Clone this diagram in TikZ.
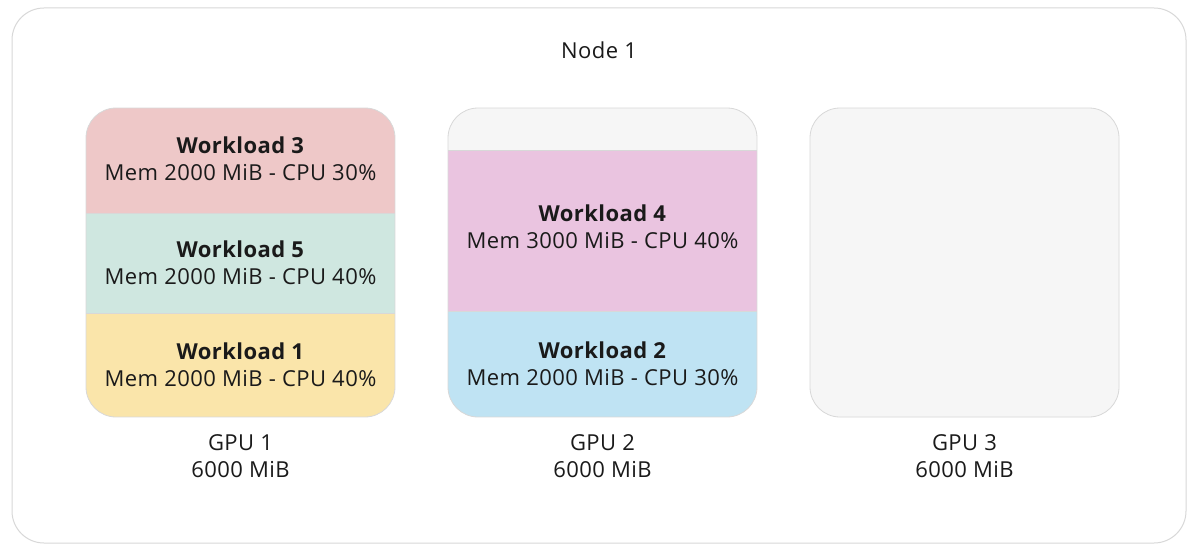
\documentclass[tikz,border=0pt]{standalone}
\usepackage{fontspec}
\setmainfont[LetterSpace=2]{Open Sans}
\definecolor{wpink}{HTML}{EEC8C8}
\definecolor{wteal}{HTML}{CFE7E0}
\definecolor{wyellow}{HTML}{FAE5AA}
\definecolor{wmag}{HTML}{EAC4E0}
\definecolor{wblue}{HTML}{BFE3F3}
\definecolor{wgrey}{HTML}{F6F6F6}
\definecolor{wline}{HTML}{D8D8D8}
\definecolor{wtext}{HTML}{1A1A1A}
\begin{document}
\begin{tikzpicture}[x=1pt,y=-1pt,
  lbl/.style={text=wtext,font=\fontsize{22}{27}\selectfont,align=center,inner sep=0pt},
  gpubox/.style={draw=wline,line width=0.8pt,rounded corners=30pt}]
\useasboundingbox (0,0) rectangle (1200,551);
\fill[white] (0,0) rectangle (1200,551);
\node[draw=wline,line width=1pt,rounded corners=32pt,minimum width=1174pt,minimum height=535pt,inner sep=0pt] (outer) at (599,275.5) {};
\node[lbl] (title) at (599,50) {Node 1};
% GPU 1
\begin{scope}
\clip[rounded corners=30pt] (86,108) rectangle (395,417);
\fill[wpink] (86,108) rectangle (395,213);
\fill[wteal] (86,213) rectangle (395,313);
\fill[wyellow] (86,313) rectangle (395,417);
\draw[wline,line width=0.6pt] (86,213) -- (395,213) (86,313) -- (395,313);
\end{scope}
\node[gpubox,minimum width=309pt,minimum height=309pt,inner sep=0pt] (gpu1) at (240.5,262.5) {};
\node[lbl] (w3) at (240.5,159) {\textbf{Workload 3}\\Mem 2000 MiB - CPU 30\%};
\node[lbl] (w5) at (240.5,263) {\textbf{Workload 5}\\Mem 2000 MiB - CPU 40\%};
\node[lbl] (w1) at (240.5,365) {\textbf{Workload 1}\\Mem 2000 MiB - CPU 40\%};
% GPU 2
\begin{scope}
\clip[rounded corners=30pt] (448,108) rectangle (757,417);
\fill[wgrey] (448,108) rectangle (757,150);
\fill[wmag] (448,150) rectangle (757,311);
\fill[wblue] (448,311) rectangle (757,417);
\draw[wline,line width=0.6pt] (448,150) -- (757,150) (448,311) -- (757,311);
\end{scope}
\node[gpubox,minimum width=309pt,minimum height=309pt,inner sep=0pt] (gpu2) at (602.5,262.5) {};
\node[lbl] (w4) at (602.5,227) {\textbf{Workload 4}\\Mem 3000 MiB - CPU 40\%};
\node[lbl] (w2) at (602.5,364) {\textbf{Workload 2}\\Mem 2000 MiB - CPU 30\%};
% GPU 3
\node[gpubox,fill=wgrey,minimum width=309pt,minimum height=309pt,inner sep=0pt] (gpu3) at (964.5,262.5) {};
% labels
\node[lbl] (g1) at (240.5,456) {GPU 1\\6000 MiB};
\node[lbl] (g2) at (602.5,456) {GPU 2\\6000 MiB};
\node[lbl] (g3) at (964.5,456) {GPU 3\\6000 MiB};
\end{tikzpicture}
\end{document}
